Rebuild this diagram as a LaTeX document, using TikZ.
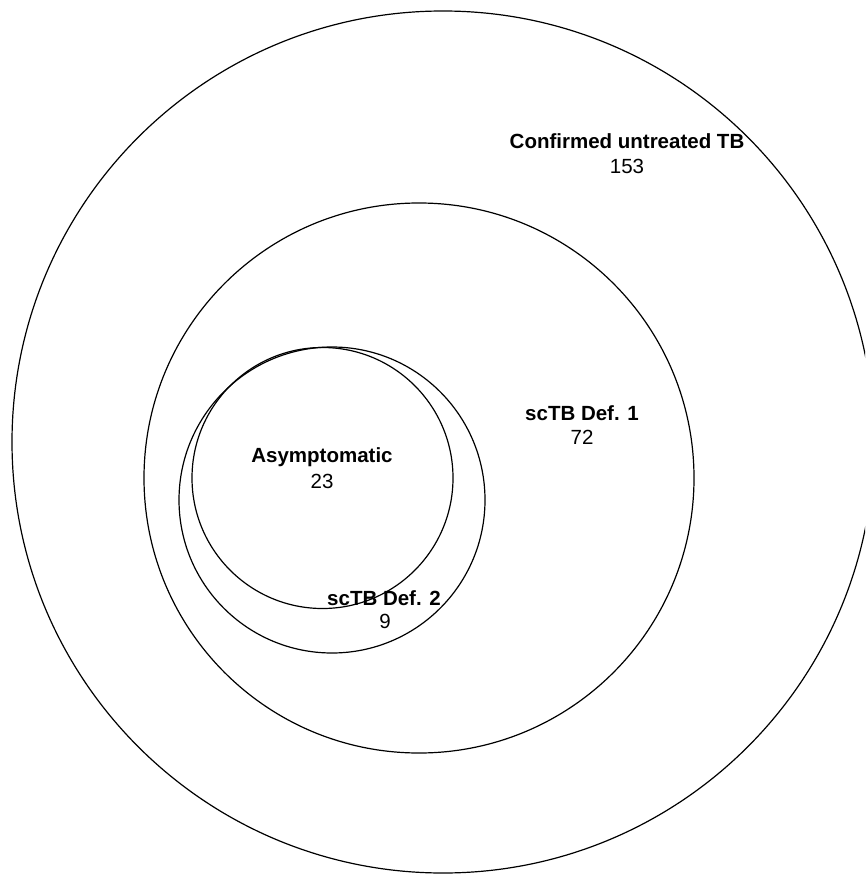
\documentclass[tikz,border=0pt]{standalone}
\usepackage{fontspec}
\setmainfont{Liberation Sans}
\begin{document}
\begin{tikzpicture}[x=1pt,y=-1pt,
  ring/.style={draw=black,line width=1.2pt},
  lbl/.style={anchor=base,inner sep=0pt,font=\fontsize{20.5}{24}\selectfont\bfseries},
  cnt/.style={anchor=base,inner sep=0pt,font=\fontsize{20.5}{24}\selectfont}]
\useasboundingbox (0,0) rectangle (865,874);
\begin{scope}
\clip (0,0) rectangle (865,874);
\draw[ring] (443,442) circle[radius=431];
\draw[ring] (419,478) circle[radius=275];
\draw[ring] (332,500) circle[radius=153];
\draw[ring] (322.5,478) circle[radius=130.5];
\end{scope}
\node[lbl] (tb) at (627,149) {Confirmed untreated TB};
\node[cnt] (tbn) at (627,174) {153};
\node[lbl] (d1) at (582,420) {scTB Def. 1};
\node[cnt] (d1n) at (582,444) {72};
\node[lbl] (as) at (322,462) {Asymptomatic};
\node[cnt] (asn) at (322,488) {23};
\node[lbl] (d2) at (384,605) {scTB Def. 2};
\node[cnt] (d2n) at (385,628) {9};
\end{tikzpicture}
\end{document}
